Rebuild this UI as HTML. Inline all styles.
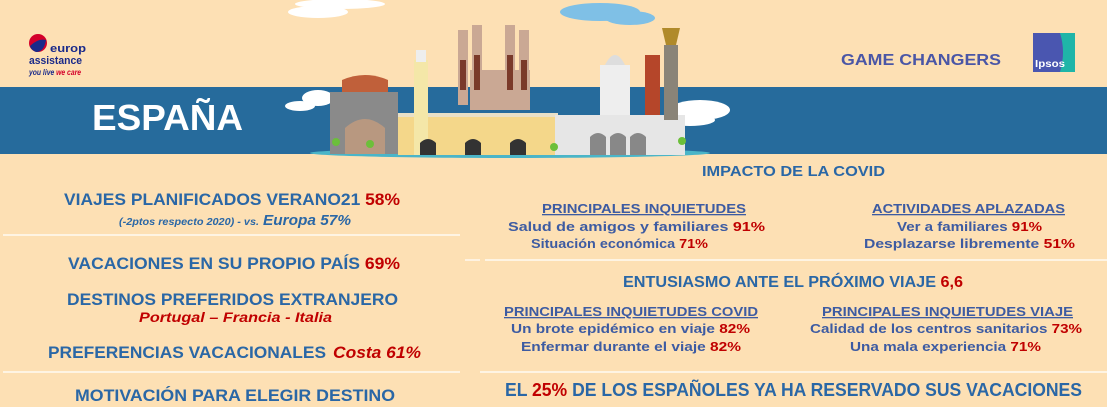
<!DOCTYPE html>
<html><head><meta charset="utf-8"><style>
html,body{margin:0;padding:0;background:#fde0b4;}
svg{display:block;}
text{font-family:"Liberation Sans",sans-serif;font-weight:bold;}
</style></head><body>
<svg width="1107" height="407" viewBox="0 0 1107 407" xmlns="http://www.w3.org/2000/svg">
<rect width="1107" height="407" fill="#fde0b4"/>
<rect x="0" y="87" width="1107" height="67" fill="#266b9c"/>
<g fill="#fff">
<ellipse cx="318" cy="12" rx="30" ry="6"/><ellipse cx="340" cy="4" rx="45" ry="5" />
<ellipse cx="300" cy="106" rx="15" ry="5"/><ellipse cx="318" cy="98" rx="16" ry="8"/>
<ellipse cx="700" cy="110" rx="30" ry="10"/><ellipse cx="690" cy="120" rx="25" ry="6"/>
</g>
<g fill="#7fc0e6"><ellipse cx="600" cy="12" rx="40" ry="9"/><ellipse cx="630" cy="18" rx="25" ry="7"/></g>
<ellipse cx="510" cy="153" rx="200" ry="5" fill="#4ab5c8"/>
<rect x="330" y="92" width="68" height="62" fill="#8a8a8a"/>
<path d="M342 80 Q365 70 388 80 L388 92 L342 92Z" fill="#c0603a"/>
<path d="M345 154 L345 128 Q365 110 385 128 L385 154Z" fill="#b89880"/>
<rect x="398" y="113" width="160" height="42" fill="#f4d78a"/>
<rect x="398" y="113" width="160" height="4" fill="#e8e0c8"/>
<rect x="414" y="60" width="14" height="95" fill="#f4e7a8"/>
<rect x="416" y="50" width="10" height="12" fill="#eee"/>
<g fill="#333"><path d="M420 155v-12q8-8 16 0v12z"/><path d="M465 155v-12q8-8 16 0v12z"/><path d="M510 155v-12q8-8 16 0v12z"/></g>
<g fill="#caa894">
<rect x="458" y="30" width="10" height="75"/><rect x="472" y="25" width="10" height="80"/>
<rect x="505" y="25" width="10" height="80"/><rect x="519" y="30" width="10" height="75"/>
<rect x="470" y="70" width="60" height="40"/>
</g>
<g fill="#7a3a2a"><rect x="460" y="60" width="6" height="30"/><rect x="474" y="55" width="6" height="35"/><rect x="507" y="55" width="6" height="35"/><rect x="521" y="60" width="6" height="30"/></g>
<rect x="555" y="115" width="130" height="40" fill="#e6e6e6"/>
<rect x="600" y="65" width="30" height="50" fill="#eee"/>
<path d="M605 65 Q615 45 625 65Z" fill="#ddd"/>
<g fill="#888"><path d="M590 155v-18q8-8 16 0v18z"/><path d="M610 155v-18q8-8 16 0v18z"/><path d="M630 155v-18q8-8 16 0v18z"/></g>
<rect x="645" y="55" width="15" height="60" fill="#b5462a"/>
<rect x="664" y="45" width="14" height="75" fill="#8a8478"/>
<path d="M662 28 L680 28 L676 45 L666 45Z" fill="#b08a2a"/>
<g fill="#6cbf3a"><circle cx="336" cy="142" r="4"/><circle cx="370" cy="144" r="4"/><circle cx="554" cy="147" r="4"/><circle cx="682" cy="141" r="4"/></g>
<circle cx="38" cy="43" r="9" fill="#d4002a"/>
<path d="M30 46 Q38 38 46 40 Q44 52 36 52 Q31 50 30 46Z" fill="#1a2a8a"/>
<text x="50" y="52" font-size="11" fill="#1a2a8a" textLength="36" lengthAdjust="spacingAndGlyphs">europ</text>
<text x="29" y="64" font-size="11" fill="#1a2a8a" textLength="53" lengthAdjust="spacingAndGlyphs">assistance</text>
<text x="29" y="75" font-size="8" font-style="italic" font-weight="normal" fill="#1a2a8a" textLength="52" lengthAdjust="spacingAndGlyphs">you live <tspan fill="#d4002a">we care</tspan></text>
<text x="92" y="130" font-size="36" fill="#fff" textLength="151" lengthAdjust="spacingAndGlyphs">ESPAÑA</text>
<text x="841" y="65" font-size="16" fill="#4a56a6" textLength="160" lengthAdjust="spacingAndGlyphs">GAME CHANGERS</text>
<rect x="1033" y="33" width="42" height="39" fill="#4a56b0"/>
<path d="M1060 33 L1075 33 L1075 72 L1060 72 Q1066 52 1060 33Z" fill="#1fb5a8"/>
<text x="1035" y="67" font-size="10" fill="#fff" textLength="30" lengthAdjust="spacingAndGlyphs">Ipsos</text>
<g stroke="#fff" stroke-width="1.2">
<line x1="3" y1="235" x2="460" y2="235"/><line x1="485" y1="260" x2="1107" y2="260"/>
<line x1="3" y1="372" x2="460" y2="372"/><line x1="480" y1="372" x2="1107" y2="372"/>
<line x1="465" y1="260" x2="480" y2="260"/>
</g>
<g fill="#2a67a6">
<text x="64" y="205" font-size="17" textLength="336" lengthAdjust="spacingAndGlyphs">VIAJES PLANIFICADOS VERANO21 <tspan fill="#c00000">58%</tspan></text>
<text x="119" y="225" font-size="10" font-style="italic" textLength="140" lengthAdjust="spacingAndGlyphs">(-2ptos respecto 2020) - vs.</text>
<text x="263" y="225" font-size="15" font-style="italic" textLength="88" lengthAdjust="spacingAndGlyphs">Europa 57%</text>
<text x="68" y="269" font-size="17" textLength="332" lengthAdjust="spacingAndGlyphs">VACACIONES EN SU PROPIO PAÍS <tspan fill="#c00000">69%</tspan></text>
<text x="67" y="305" font-size="17" textLength="331" lengthAdjust="spacingAndGlyphs">DESTINOS PREFERIDOS EXTRANJERO</text>
<text x="139" y="322" font-size="14" font-style="italic" fill="#c00000" textLength="193" lengthAdjust="spacingAndGlyphs">Portugal – Francia - Italia</text>
<text x="48" y="358" font-size="17" textLength="278" lengthAdjust="spacingAndGlyphs">PREFERENCIAS VACACIONALES</text>
<text x="333" y="358" font-size="17" font-style="italic" fill="#c00000" textLength="88" lengthAdjust="spacingAndGlyphs">Costa 61%</text>
<text x="75" y="401" font-size="17" textLength="320" lengthAdjust="spacingAndGlyphs">MOTIVACIÓN PARA ELEGIR DESTINO</text>
</g>
<g fill="#2a67a6">
<text x="702" y="176" font-size="15" textLength="183" lengthAdjust="spacingAndGlyphs">IMPACTO DE LA COVID</text>
<text x="623" y="287" font-size="16" textLength="340" lengthAdjust="spacingAndGlyphs">ENTUSIASMO ANTE EL PRÓXIMO VIAJE <tspan fill="#c00000">6,6</tspan></text>
<text x="505" y="396" font-size="18" textLength="577" lengthAdjust="spacingAndGlyphs">EL <tspan fill="#c00000">25%</tspan> DE LOS ESPAÑOLES YA HA RESERVADO SUS VACACIONES</text>
</g>
<g fill="#3d5ba2" font-size="13">
<text x="542" y="213" textLength="204" lengthAdjust="spacingAndGlyphs" text-decoration="underline">PRINCIPALES INQUIETUDES</text>
<text x="872" y="213" textLength="193" lengthAdjust="spacingAndGlyphs" text-decoration="underline">ACTIVIDADES APLAZADAS</text>
<text x="508" y="231" textLength="257" lengthAdjust="spacingAndGlyphs">Salud de amigos y familiares <tspan fill="#c00000">91%</tspan></text>
<text x="531" y="248" textLength="177" lengthAdjust="spacingAndGlyphs">Situación económica <tspan fill="#c00000">71%</tspan></text>
<text x="897" y="231" textLength="145" lengthAdjust="spacingAndGlyphs">Ver a familiares <tspan fill="#c00000">91%</tspan></text>
<text x="864" y="248" textLength="211" lengthAdjust="spacingAndGlyphs">Desplazarse libremente  <tspan fill="#c00000">51%</tspan></text>
<text x="504" y="316" textLength="254" lengthAdjust="spacingAndGlyphs" text-decoration="underline">PRINCIPALES INQUIETUDES COVID</text>
<text x="822" y="316" textLength="251" lengthAdjust="spacingAndGlyphs" text-decoration="underline">PRINCIPALES INQUIETUDES VIAJE</text>
<text x="511" y="333" textLength="239" lengthAdjust="spacingAndGlyphs">Un brote epidémico en viaje <tspan fill="#c00000">82%</tspan></text>
<text x="521" y="351" textLength="220" lengthAdjust="spacingAndGlyphs">Enfermar durante el viaje <tspan fill="#c00000">82%</tspan></text>
<text x="810" y="333" textLength="272" lengthAdjust="spacingAndGlyphs">Calidad de los centros sanitarios <tspan fill="#c00000">73%</tspan></text>
<text x="850" y="351" textLength="191" lengthAdjust="spacingAndGlyphs">Una mala experiencia <tspan fill="#c00000">71%</tspan></text>
</g>
</svg>
</body></html>
